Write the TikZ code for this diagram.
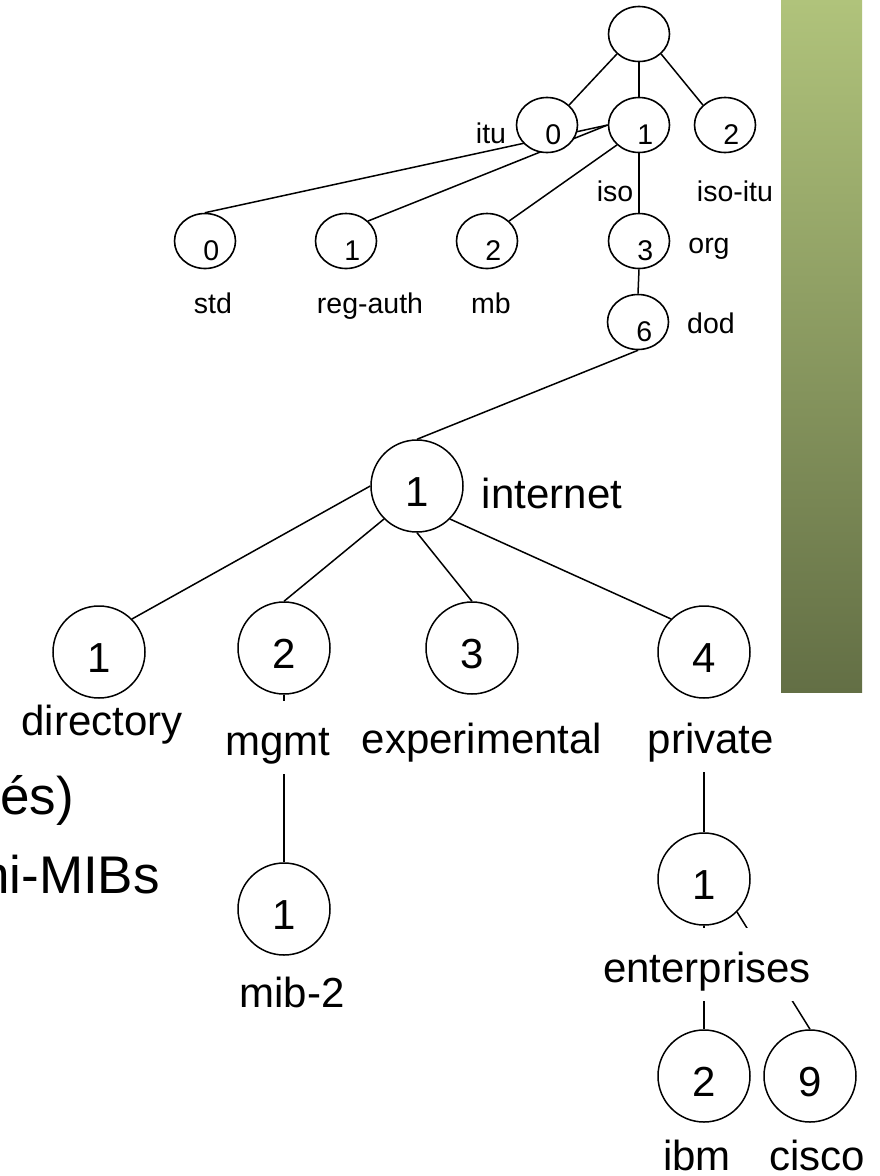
\documentclass[tikz,border=0pt]{standalone}
\usepackage{fontspec}
\setmainfont{Liberation Sans}
\usetikzlibrary{shapes.geometric,backgrounds}
\definecolor{BarTop}{RGB}{176,195,123}
\definecolor{BarBottom}{RGB}{99,111,69}

\begin{document}
\begin{tikzpicture}[
    x=1pt, y=-1pt,
    topnode/.style={
        draw,
        ellipse,
        line width=1.6pt,
        fill=white,
        inner sep=0pt,
        minimum width=61pt,
        minimum height=55pt,
        text height=38pt,
        text depth=0pt,
        font=\fontsize{28.5}{34}\selectfont,
        execute at begin node={\hspace*{0.45em}}
    },
    bignode/.style={
        draw,
        circle,
        line width=1.5pt,
        fill=white,
        inner sep=0pt,
        minimum size=92pt,
        text height=40pt,
        text depth=0pt,
        font=\fontsize{42}{50}\selectfont
    },
    tag/.style={
        anchor=base,
        inner sep=0pt,
        font=\fontsize{28.5}{34}\selectfont
    },
    bigtag/.style={
        anchor=base,
        fill=white,
        inner xsep=4pt,
        inner ysep=10pt,
        text height=44pt,
        text depth=9pt,
        font=\fontsize{42}{50}\selectfont
    },
    leaftag/.style={
        anchor=base,
        inner sep=0pt,
        font=\fontsize{42}{50}\selectfont
    },
    side/.style={
        anchor=base east,
        inner sep=0pt,
        font=\fontsize{53}{60}\selectfont
    },
    link/.style={
        line width=1.5pt
    }
]
\useasboundingbox (0,0) rectangle (879,1176);

\shade[top color=BarTop,bottom color=BarBottom] (781,0) rectangle (862,692);

% names beside the upper nodes
\node[tag] (itutag) at (491,143) {itu};
\node[tag] (isotag) at (615,201) {iso};
\node[tag] (isoitutag) at (735,201) {iso-itu};
\node[tag] (orgtag) at (709,253) {org};
\node[tag] (dodtag) at (711,333) {dod};
\node[tag] (stdtag) at (213,313) {std};
\node[tag] (regauthtag) at (370,313) {reg-auth};
\node[tag] (mbtag) at (491,313) {mb};

% names beside the lower nodes
\node[bigtag] (internettag) at (552,508) {internet};
\node[bigtag] (directorytag) at (102,735) {directory};
\node[bigtag] (mgmttag) at (278,755) {mgmt};
\node[bigtag] (experimentaltag) at (482,753) {experimental};
\node[bigtag] (privatetag) at (711,753) {private};
\node[bigtag] (mibtag) at (292,1007) {mib-2};
\node[bigtag] (enterprisestag) at (707,982) {enterprises};
\node[leaftag] (ibmtag) at (697,1170) {ibm};
\node[leaftag] (ciscotag) at (817,1170) {cisco};

\node[side] (privestxt) at (74,814) {és)};
\node[side] (mibstxt) at (160,893) {ni-MIBs};

\node[topnode] (root) at (639,34) {};
\node[topnode] (itu) at (547,125) {0};
\node[topnode] (iso) at (639,125) {1};
\node[topnode] (isoitu) at (725,125) {2};
\node[topnode] (std) at (205,241) {0};
\node[topnode] (regauth) at (346,241) {1};
\node[topnode] (mb) at (487,241) {2};
\node[topnode] (org) at (639,241) {3};
\node[topnode] (dod) at (638,322) {6};

\node[bignode] (internet) at (417,486) {1};
\node[bignode] (directory) at (99,652) {1};
\node[bignode] (mgmt) at (284,648) {2};
\node[bignode] (experimental) at (472,648) {3};
\node[bignode] (private) at (704,652) {4};
\node[bignode] (mib) at (284,909) {1};
\node[bignode] (enterprises) at (704,879) {1};
\node[bignode] (ibm) at (704,1076) {2};
\node[bignode] (cisco) at (810,1076) {9};

\begin{scope}[on background layer]
\fill[white] (0,0) rectangle (879,1176);
\draw[link] (root.south west) -- (itu.north east);
\draw[link] (root.south) -- (iso.north);
\draw[link] (root.south east) -- (isoitu.north west);
\draw[link] (iso.west) -- (std.north);
\draw[link] (iso.west) -- (regauth.north east);
\draw[link] (iso.south west) -- (mb.north east);
\draw[link] (iso.south) -- (org.north);
\draw[link] (org.south) -- (dod.north);
\draw[link] (dod.south) -- (internet.north);
\draw[link] (internet.west) -- (directory.north east);
\draw[link] (internet.south west) -- (mgmt.north);
\draw[link] (internet.south) -- (experimental.north);
\draw[link] (internet.south east) -- (private.north west);
\draw[link] (mgmt.south) -- (mib.north);
\draw[link] (private.south) -- (enterprises.north);
\draw[link] (enterprises.south) -- (ibm.north);
\draw[link] (enterprises.south east) -- (cisco.north);
\end{scope}

\end{tikzpicture}
\end{document}
